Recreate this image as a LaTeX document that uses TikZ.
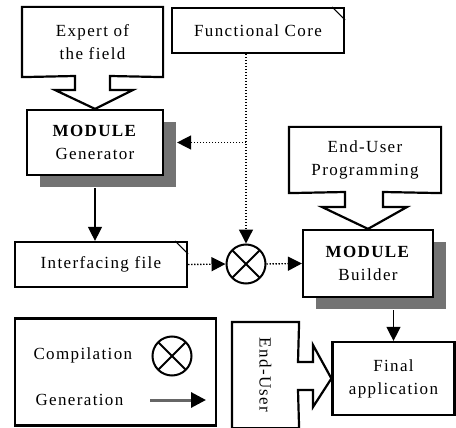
\documentclass[tikz,border=0pt]{standalone}
\usepackage{fontspec}
\setmainfont{Liberation Serif}[LetterSpace=8]
\usetikzlibrary{arrows.meta,shadows}

\tikzset{
  box/.style={draw, line width=2.2pt, fill=white, align=center, inner sep=0pt,
    font=\fontsize{17}{23}\selectfont},
  shadowed/.style={drop shadow={shadow xshift=13pt, shadow yshift=-12pt,
    fill=black!55, opacity=1}},
  flow/.style={line width=1.3pt, -{Triangle[length=14pt,width=14pt]}},
  dots/.style={line width=1.4pt, dash pattern=on 1.4pt off 1.6pt, -{Triangle[length=14pt,width=14pt]}},
  compsign/.style={circle, draw, line width=2pt, minimum size=39pt, inner sep=0pt,
    path picture={\draw[line width=2pt]
      (path picture bounding box.north west) -- (path picture bounding box.south east)
      (path picture bounding box.north east) -- (path picture bounding box.south west);}},
  legendtext/.style={anchor=west, font=\fontsize{17}{23}\selectfont},
}

\begin{document}
\begin{tikzpicture}[x=1pt,y=-1pt]
\useasboundingbox (0,0) rectangle (456,428);
% inputs
\node[box, draw=none, minimum width=139pt, minimum height=68pt] (expert) at (92.5,42) {Expert of\\the field};
\node[box, minimum width=172pt, minimum height=45pt] (core) at (258,30.5) {Functional Core};
\draw[line width=1pt] ([xshift=-13pt]core.north east) -- ([yshift=-13pt]core.north east);
% modules
\node[box, shadowed, minimum width=136pt, minimum height=65pt] (gen) at (95,142.5) {\textbf{MODULE}\\Generator};
\node[box, draw=none, minimum width=150pt, minimum height=64pt] (prog) at (365,160) {End-User\\Programming};
\node[box, shadowed, minimum width=130pt, minimum height=67pt] (builder) at (368,263.5) {\textbf{MODULE}\\Builder};
\node[box, minimum width=172pt, minimum height=45pt] (inter) at (101,264.5) {Interfacing file};
\draw[line width=1pt] ([xshift=-13pt]inter.north east) -- ([yshift=-13pt]inter.north east);
\node[compsign] (mix) at (246,264) {};
% output
\node[box, minimum width=122pt, minimum height=73pt] (final) at (393.5,378.5) {Final\\application};
\node[box, draw=none, minimum width=65pt, minimum height=104pt] (user) at (265.5,375) {\rotatebox{-90}{End-User}};
% legend
\node[box, minimum width=201pt, minimum height=107pt] (legend) at (115.5,372) {};
\node[legendtext] (lcomp) at (30,355) {Compilation};
\node[compsign] (lmix) at (172,356) {};
\node[legendtext] (lgen) at (32,400) {Generation};
\coordinate (lstart) at (150,400);
\coordinate (lend) at (206,400);
\draw[line width=3pt, black!60, -{Triangle[black,length=15pt,width=15pt]}] (lstart) -- (lend);
% callout outlines
\draw[line width=2.2pt] (expert.north west) -- (expert.north east) -- (expert.south east)
  -- (110,76) -- (110,90) -- (133,90) -- (gen.north) -- (55,90) -- (75,90) -- (75,76)
  -- (expert.south west) -- cycle;
\draw[line width=2.2pt] (prog.north west) -- (prog.north east) -- (prog.south east)
  -- (383,192) -- (383,207) -- (407,207) -- (builder.north) -- (322,207) -- (345,207) -- (345,192)
  -- (prog.south west) -- cycle;
\draw[line width=2.2pt] (user.north west) -- (user.north east) -- (298,362) -- (313,362)
  -- (313,345) -- (final.west) -- (313,407) -- (313,390) -- (298,390)
  -- (user.south east) -- (user.south west) -- cycle;
% connectors
\coordinate (branch) at (mix.north |- gen.east);
\coordinate (genout) at ([yshift=-12pt]gen.south);
\coordinate (buildout) at ([yshift=-12pt]builder.south);
\draw[dots] (core.south -| mix.north) -- (mix.north);
\draw[dots] (branch) -- ([xshift=13pt]gen.east);
\draw[dots] (inter.east) -- (mix.west);
\draw[dots] (mix.east) -- (builder.west);
\draw[flow] (genout) -- (genout |- inter.north);
\draw[flow] (final.north |- buildout) -- (final.north);
\end{tikzpicture}
\end{document}
